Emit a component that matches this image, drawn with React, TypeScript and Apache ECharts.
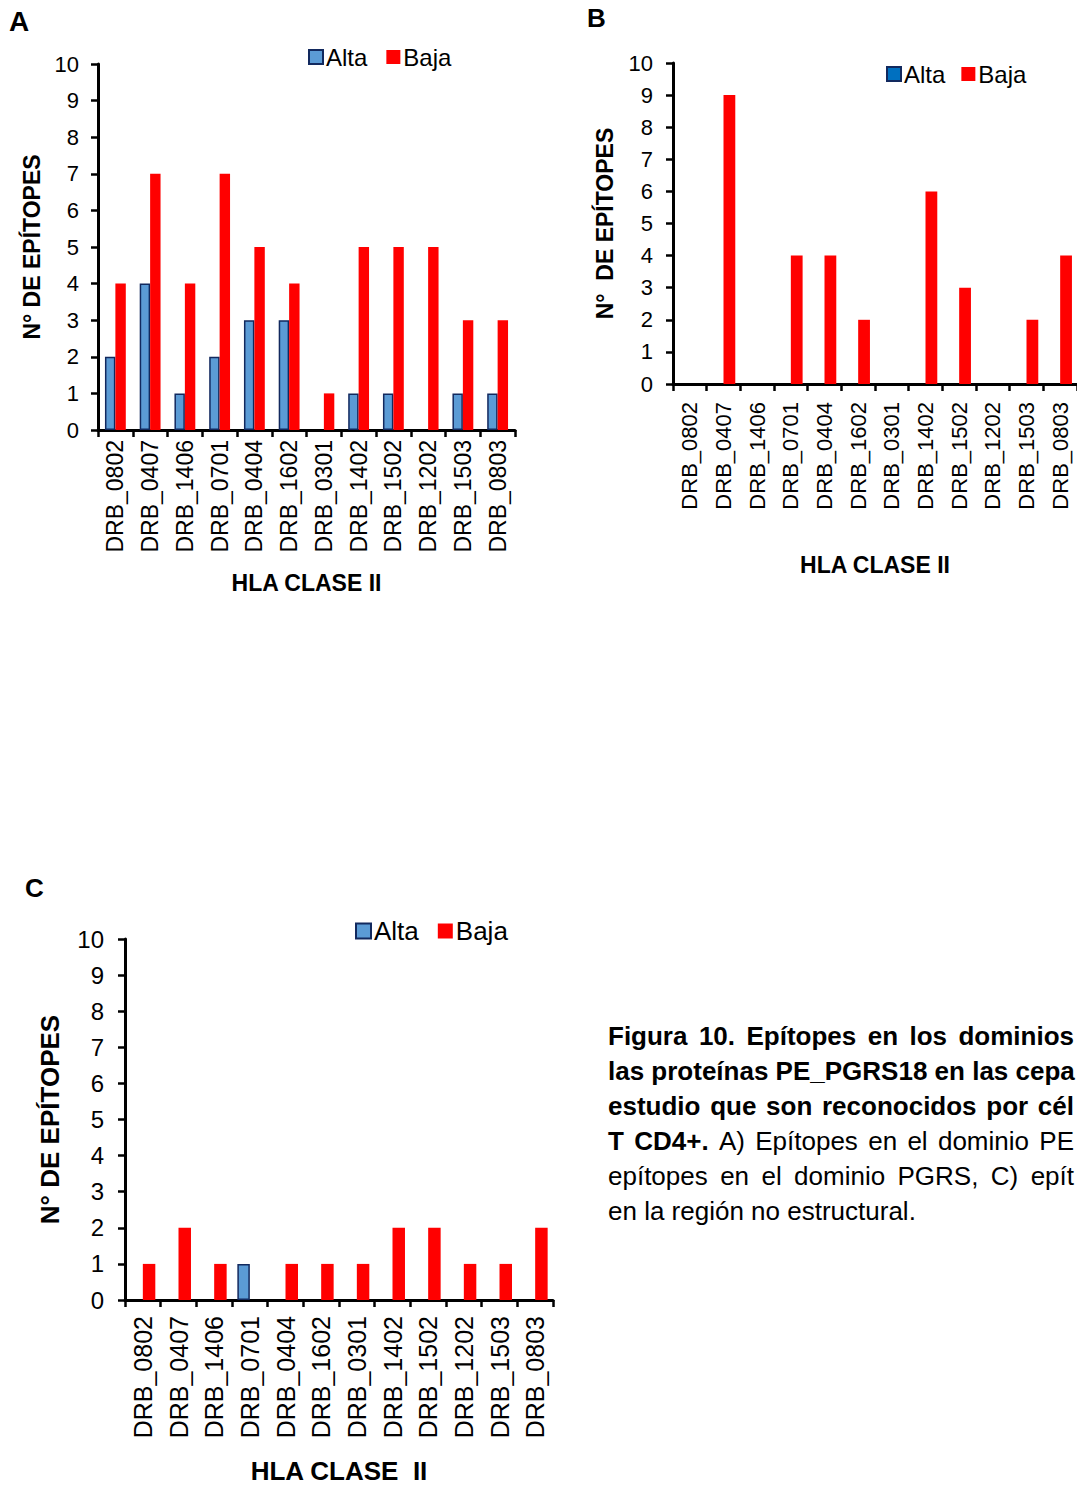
import React, { useEffect, useRef } from "react";
import * as echarts from "echarts";

const categories = [
  "DRB_0802", "DRB_0407", "DRB_1406", "DRB_0701", "DRB_0404", "DRB_1602",
  "DRB_0301", "DRB_1402", "DRB_1502", "DRB_1202", "DRB_1503", "DRB_0803",
];
const seriesNames = ["Alta", "Baja"];
const altaA = [2, 4, 1, 2, 3, 3, 0, 1, 1, 0, 1, 1];
const bajaA = [4, 7, 4, 7, 5, 4, 1, 5, 5, 5, 3, 3];
const altaB = [0, 0, 0, 0, 0, 0, 0, 0, 0, 0, 0, 0];
const bajaB = [0, 9, 0, 4, 4, 2, 0, 6, 3, 0, 2, 4];
const altaC = [0, 0, 0, 1, 0, 0, 0, 0, 0, 0, 0, 0];
const bajaC = [1, 2, 1, 0, 1, 1, 1, 2, 2, 1, 1, 2];
const yMin = 0;
const yMax = 10;
const yStep = 1;
const yTitle = "N° DE EPÍTOPES";
const yTitleB = "N°  DE EPÍTOPES";
const xTitle = "HLA CLASE II";
const xTitleC = "HLA CLASE  II";
const panelLetters = ["A", "B", "C"];
// caption lines as shown (cut at the page edge in the reference)
const captionLines: { t: string; b: boolean }[][] = [
  [{ t: "Figura 10. Epítopes en los dominios", b: true }],
  [{ t: "las proteínas PE_PGRS18 en las cepa", b: true }],
  [{ t: "estudio que son reconocidos por cél", b: true }],
  [{ t: "T CD4+.", b: true }, { t: "A) Epítopes en el dominio PE", b: false }],
  [{ t: "epítopes en el dominio PGRS, C) epít", b: false }],
  [{ t: "en la región no estructural.", b: false }],
];
const captionJustified = [true, true, true, true, true, false];

const FONT = 'Arial, "Liberation Sans", Helvetica, sans-serif';
const ALTA_FILL = "#5B9BD5";
const ALTA_BORDER = "#12295E";
const BAJA_FILL = "#FF0000";

const toBars = (arr: number[]) => arr.map((v) => (v === 0 ? "-" : v));

function App() {
  const ref = useRef<HTMLDivElement>(null);
  useEffect(() => {
    if (!ref.current) return;
    const chart = echarts.init(ref.current, undefined, { renderer: "svg" });

    const grids = [
      { left: 98, top: 64, width: 417, height: 366 },
      { left: 673, top: 63, width: 405, height: 321 },
      { left: 125, top: 939, width: 428, height: 362 },
    ];
    const cfg = [
      { labelSize: 23, labelMargin: 10, tickSize: 22, tickMargin: 19, titleSize: 23, yGap: 55, xGap: 141, xName: xTitle, yName: yTitle, gapCat: "40%" },
      { labelSize: 22, labelMargin: 18, tickSize: 22, tickMargin: 20, titleSize: 23, yGap: 57, xGap: 169, xName: xTitle, yName: yTitleB, gapCat: "30%" },
      { labelSize: 25, labelMargin: 16, tickSize: 24, tickMargin: 21, titleSize: 26, yGap: 62, xGap: 158, xName: xTitleC, yName: yTitle, gapCat: "30%" },
    ];

    const xAxis = cfg.map((c, i) => ({
      type: "category",
      gridIndex: i,
      data: categories,
      name: c.xName,
      nameLocation: "middle",
      nameGap: c.xGap,
      nameTextStyle: { fontFamily: FONT, fontWeight: "bold", fontSize: c.titleSize, color: "#000" },
      axisLine: { show: true, lineStyle: { color: "#000", width: 3 } },
      axisTick: { show: true, inside: false, length: 7, alignWithLabel: false, lineStyle: { color: "#000", width: 2.5 } },
      axisLabel: { rotate: 90, interval: 0, margin: c.labelMargin, fontFamily: FONT, fontSize: c.labelSize, color: "#000" },
      splitLine: { show: false },
    }));

    const yAxis = cfg.map((c, i) => ({
      type: "value",
      gridIndex: i,
      min: yMin,
      max: yMax,
      interval: yStep,
      name: c.yName,
      nameLocation: "middle",
      nameRotate: 90,
      nameGap: c.yGap,
      nameTextStyle: { fontFamily: FONT, fontWeight: "bold", fontSize: c.titleSize, color: "#000" },
      axisLine: { show: true, lineStyle: { color: "#000", width: 3 } },
      axisTick: { show: true, inside: false, length: 7, lineStyle: { color: "#000", width: 2.5 } },
      axisLabel: { margin: c.tickMargin, fontFamily: FONT, fontSize: c.tickSize, color: "#000" },
      splitLine: { show: false },
    }));

    const altaData = [altaA, altaB, altaC];
    const bajaData = [bajaA, bajaB, bajaC];
    const series: any[] = [];
    cfg.forEach((c, i) => {
      series.push({
        type: "bar",
        name: seriesNames[0],
        xAxisIndex: i,
        yAxisIndex: i,
        data: toBars(altaData[i]),
        barGap: "0%",
        barCategoryGap: c.gapCat,
        itemStyle: { color: ALTA_FILL, borderColor: ALTA_BORDER, borderWidth: 1.5 },
      });
      series.push({
        type: "bar",
        name: seriesNames[1],
        xAxisIndex: i,
        yAxisIndex: i,
        data: toBars(bajaData[i]),
        barGap: "0%",
        barCategoryGap: c.gapCat,
        itemStyle: { color: BAJA_FILL },
      });
    });

    const legendPos = [
      { left: 308, top: 45, size: 24, icon: 14, gap: 19, altaColor: ALTA_FILL },
      { left: 886, top: 62, size: 24, icon: 14, gap: 16, altaColor: "#0070C0" },
      { left: 355, top: 918, size: 26, icon: 15, gap: 19, altaColor: ALTA_FILL },
    ];
    const legend = legendPos.map((l) => ({
      left: l.left,
      top: l.top,
      orient: "horizontal",
      padding: 0,
      itemGap: l.gap,
      itemWidth: l.icon,
      itemHeight: l.icon,
      icon: "rect",
      selectedMode: false,
      textStyle: { fontFamily: FONT, fontSize: l.size, color: "#000", padding: [0, 0, 0, -2] },
      data: [
        { name: seriesNames[0], itemStyle: { color: l.altaColor, borderColor: ALTA_BORDER, borderWidth: 2 } },
        { name: seriesNames[1], itemStyle: { color: BAJA_FILL, borderWidth: 0 } },
      ],
    }));

    const letterPos = [
      { x: 9, y: 21, size: 28 },
      { x: 587, y: 18, size: 26 },
      { x: 25, y: 888, size: 26 },
    ];
    const graphic: any[] = letterPos.map((p, i) => ({
      type: "text",
      x: p.x,
      y: p.y,
      style: {
        text: panelLetters[i],
        fontFamily: FONT,
        fontWeight: "bold",
        fontSize: p.size,
        fill: "#000",
        verticalAlign: "middle",
        align: "left",
      },
    }));

    // caption, justified like the reference paragraph
    const capSize = 26;
    const capLeft = 608;
    const capRight = 1074;
    const canvas = document.createElement("canvas");
    const ctx = canvas.getContext("2d")!;
    const measure = (s: string, bold: boolean) => {
      ctx.font = `${bold ? "bold " : ""}${capSize}px ${FONT}`;
      return ctx.measureText(s).width;
    };
    captionLines.forEach((segs, k) => {
      const words: { t: string; b: boolean; w: number }[] = [];
      segs.forEach((s) =>
        s.t.split(" ").filter((w) => w.length).forEach((w) => words.push({ t: w, b: s.b, w: measure(w, s.b) }))
      );
      const spaceW = measure(" ", false);
      const gaps = words.length - 1;
      const natural = words.reduce((a, w) => a + w.w, 0) + gaps * spaceW;
      let extra = 0;
      if (captionJustified[k] && gaps > 0) {
        extra = Math.max(0, (capRight - capLeft - natural) / gaps);
      }
      let x = capLeft;
      const y = 1036 + k * 35;
      words.forEach((w) => {
        graphic.push({
          type: "text",
          x,
          y,
          style: {
            text: w.t,
            fontFamily: FONT,
            fontSize: capSize,
            fontWeight: w.b ? "bold" : "normal",
            fill: "#000",
            verticalAlign: "middle",
            align: "left",
          },
        });
        x += w.w + spaceW + extra;
      });
    });

    chart.setOption({
      animation: false,
      backgroundColor: "#fff",
      textStyle: { fontFamily: FONT },
      grid: grids,
      xAxis,
      yAxis,
      legend,
      series,
      graphic,
    });
    return () => chart.dispose();
  }, []);

  return (
    <div
      ref={ref}
      style={{ position: "absolute", left: 0, top: 0, width: 1077, height: 1485 }}
    />
  );
}

export default App;
